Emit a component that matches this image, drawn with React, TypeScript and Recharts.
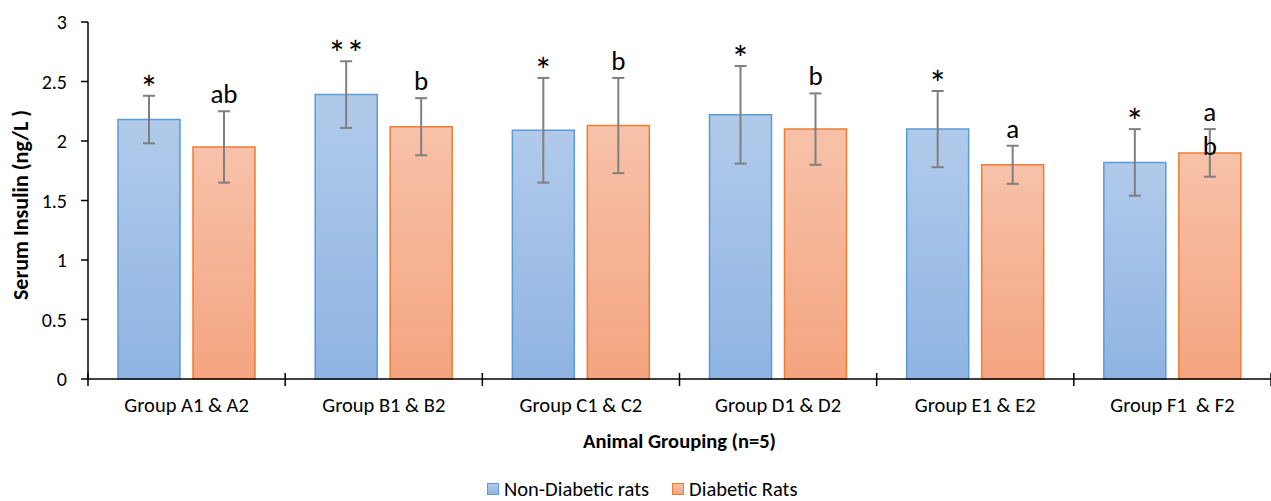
import React from 'react';
import { BarChart, Bar, XAxis, YAxis, ErrorBar, LabelList, Legend } from 'recharts';

const categories = ['Group A1 & A2', 'Group B1 & B2', 'Group C1 & C2', 'Group D1 & D2', 'Group E1 & E2', 'Group F1  & F2'];
const nonDiabetic = [2.18, 2.39, 2.09, 2.22, 2.10, 1.82];
const nonDiabeticErr = [0.20, 0.28, 0.44, 0.41, 0.32, 0.28];
const diabetic = [1.95, 2.12, 2.13, 2.10, 1.80, 1.90];
const diabeticErr = [0.30, 0.24, 0.40, 0.30, 0.16, 0.20];
const nonDiabeticSig = ['*', '**', '*', '*', '*', '*'];
const diabeticSig = ['ab', 'b', 'b', 'b', 'a', 'a\nb'];
const yTicks = [0, 0.5, 1, 1.5, 2, 2.5, 3];

const data = categories.map((c, i) => ({
  name: c,
  nd: nonDiabetic[i],
  ndErr: nonDiabeticErr[i],
  d: diabetic[i],
  dErr: diabeticErr[i],
}));

const W = 1271;
const H = 501;
const TOP = 22;
const LEFT = 88;
const AXIS_Y = 379;
const PLOT_W = W - LEFT;
const FONT = 'Carlito, Calibri, Lato, sans-serif';

const XTick = (props: any) => {
  const { x, payload, index } = props;
  const bw = PLOT_W / categories.length;
  const left = x - bw / 2;
  const right = x + bw / 2;
  return (
    <g>
      <line x1={left} x2={left} y1={AXIS_Y - 6} y2={AXIS_Y + 7} stroke="#000" strokeWidth={1.5} />
      {index === categories.length - 1 && (
        <line x1={right} x2={right} y1={AXIS_Y - 6} y2={AXIS_Y + 7} stroke="#000" strokeWidth={1.5} />
      )}
      <text x={x} y={412} textAnchor="middle" fontSize={20.5} fill="#000" fontFamily={FONT} style={{ whiteSpace: 'pre' }}>
        {payload.value}
      </text>
    </g>
  );
};

const makeSigLabel = (labels: string[], errs: number[], values: number[]) => (props: any) => {
  const vb = props.viewBox || props;
  const x = vb.x ?? props.x;
  const y = vb.y ?? props.y;
  const width = vb.width ?? props.width;
  const height = vb.height ?? props.height;
  const index = props.index;
  if (index == null || x == null) return null;
  const v = values[index];
  const ppu = Math.abs(height) / v;
  const top = Math.min(y, y + height);
  const errTop = top - errs[index] * ppu;
  const label = labels[index];
  const isStar = /^\*+$/.test(label);
  const lines = label.split('\n');
  return (
    <text
      x={x + width / 2}
      y={isStar ? errTop + 5 : errTop - 8}
      textAnchor="middle"
      fontSize={isStar ? 37 : 27}
      fill="#000"
      fontFamily={FONT}
    >
      {lines.map((l, k) => (
        <tspan key={k} x={x + width / 2} dy={k === 0 ? 0 : 34}>{l}</tspan>
      ))}
    </text>
  );
};

const LegendContent = () => (
  <div style={{ display: 'flex', alignItems: 'center', fontFamily: FONT, fontSize: 20.5, lineHeight: '20px', color: '#000', whiteSpace: 'nowrap' }}>
    <span style={{ width: 10, height: 10, border: '1.5px solid #5b9bd5', background: 'linear-gradient(#b0c9e9,#92b6e3)', display: 'inline-block', marginRight: 5 }} />
    <span style={{ marginRight: 23 }}>Non-Diabetic rats</span>
    <span style={{ width: 10, height: 10, border: '1.5px solid #ed7d31', background: 'linear-gradient(#f7c1a8,#f4a683)', display: 'inline-block', marginRight: 5 }} />
    <span>Diabetic Rats</span>
  </div>
);

export default function App() {
  return (
    <div style={{ position: 'absolute', left: 0, top: 0, width: W, height: H, background: '#fff' }}>
      <BarChart
        width={W}
        height={H}
        data={data}
        margin={{ top: TOP, right: 0, left: 0, bottom: 42 }}
        barCategoryGap={30}
        barGap={13}
      >
        <defs>
          <linearGradient id="gBlue" x1="0" y1="0" x2="0" y2="1">
            <stop offset="0%" stopColor="#b1caea" />
            <stop offset="100%" stopColor="#8fb4e3" />
          </linearGradient>
          <linearGradient id="gOrange" x1="0" y1="0" x2="0" y2="1">
            <stop offset="0%" stopColor="#f7c2aa" />
            <stop offset="100%" stopColor="#f4a47f" />
          </linearGradient>
        </defs>
        <XAxis
          dataKey="name"
          height={80}
          axisLine={{ stroke: '#000', strokeWidth: 1.5 }}
          tickLine={false}
          tick={<XTick />}
          interval={0}
          label={(p: any) => (
            <text x={LEFT + PLOT_W / 2} y={448} textAnchor="middle" fontSize={20.5} fontWeight="bold" fill="#000" fontFamily={FONT}>
              Animal Grouping (n=5)
            </text>
          )}
        />
        <YAxis
          width={LEFT}
          domain={[0, 3]}
          ticks={yTicks}
          interval={0}
          axisLine={{ stroke: '#000', strokeWidth: 1.5 }}
          tickLine={{ stroke: '#000', strokeWidth: 1.5 }}
          tickSize={7}
          tickMargin={14}
          tick={{ fontSize: 20, fill: '#000', fontFamily: FONT }}
          label={(p: any) => (
            <text x={28} y={205} transform="rotate(-90 28 205)" textAnchor="middle" fontSize={22} fontWeight="bold" fill="#000" fontFamily={FONT}>
              Serum Insulin (ng/L )
            </text>
          )}
        />
        <Legend
          layout="horizontal"
          verticalAlign="middle"
          align="center"
          content={<LegendContent />}
          wrapperStyle={{ top: 479, left: 487, width: 'auto' }}
        />
        <Bar dataKey="nd" name="Non-Diabetic rats" fill="url(#gBlue)" stroke="#5b9bd5" strokeWidth={1.5} isAnimationActive={false}>
          <ErrorBar dataKey="ndErr" width={6} stroke="#7f7f7f" strokeWidth={2} direction="y" />
          <LabelList dataKey="nd" content={makeSigLabel(nonDiabeticSig, nonDiabeticErr, nonDiabetic)} />
        </Bar>
        <Bar dataKey="d" name="Diabetic Rats" fill="url(#gOrange)" stroke="#ed7d31" strokeWidth={1.5} isAnimationActive={false}>
          <ErrorBar dataKey="dErr" width={6} stroke="#7f7f7f" strokeWidth={2} direction="y" />
          <LabelList dataKey="d" content={makeSigLabel(diabeticSig, diabeticErr, diabetic)} />
        </Bar>
      </BarChart>
    </div>
  );
}
